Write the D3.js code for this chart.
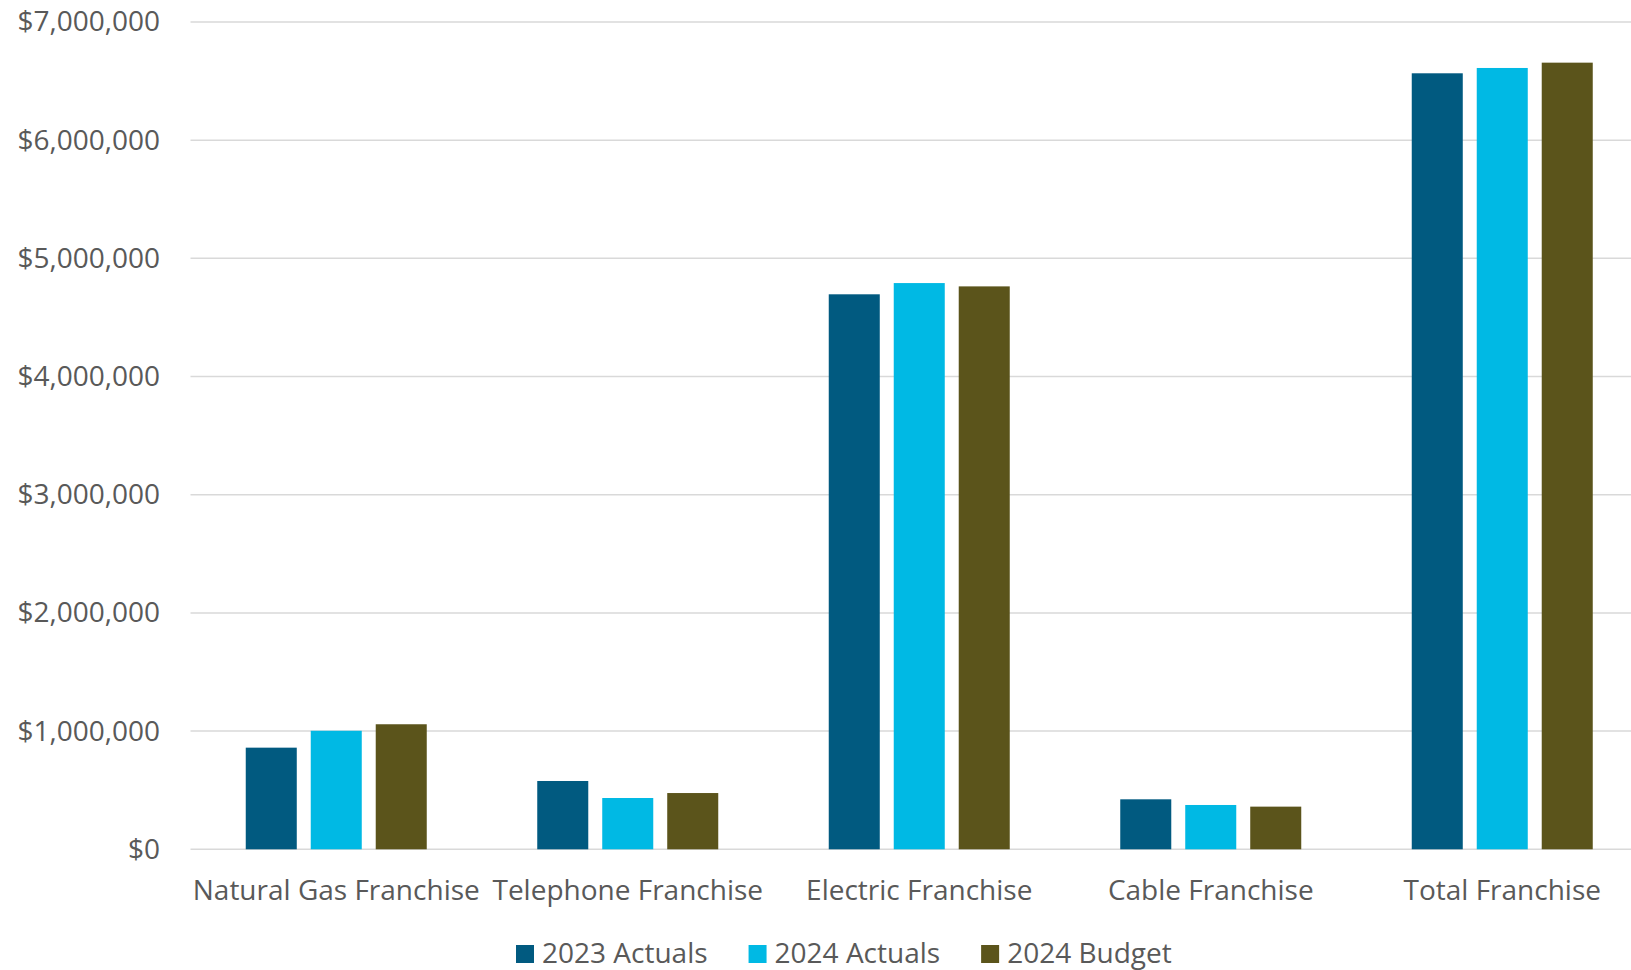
<!DOCTYPE html>
<html>
<head>
<meta charset="utf-8">
<script src="https://cdn.jsdelivr.net/npm/d3@7/dist/d3.min.js"></script>
<style>
  html, body { margin: 0; padding: 0; background: #ffffff; }
  svg { display: block; }
  text { font-family: "Open Sans", "Noto Sans", sans-serif; fill: #595959; }
</style>
</head>
<body>
<svg id="chart" width="1631" height="970"></svg>
<script>
// Franchise revenue by category
const categories = ["Natural Gas Franchise", "Telephone Franchise", "Electric Franchise", "Cable Franchise", "Total Franchise"];
const seriesNames = ["2023 Actuals", "2024 Actuals", "2024 Budget"];
const actuals2023 = [860000, 578000, 4696000, 423000, 6566000];
const actuals2024 = [1003000, 434000, 4791000, 375000, 6611000];
const budget2024 = [1058000, 476000, 4763000, 361000, 6656000];
const seriesColors = ["#015a80", "#00b9e4", "#5b541b"];
const yTicks = [0, 1000000, 2000000, 3000000, 4000000, 5000000, 6000000, 7000000];

const seriesValues = [actuals2023, actuals2024, budget2024];
const rows = categories.map((c, i) => ({
  category: c,
  values: seriesNames.map((s, j) => ({ series: s, value: seriesValues[j][i], color: seriesColors[j] }))
}));

const svg = d3.select("#chart");
const plot = { left: 190.5, right: 1648, top: 22, bottom: 849.3 };
const fontSize = 28;

const x0 = d3.scaleBand().domain(categories).range([plot.left, plot.right]).paddingInner(0).paddingOuter(0);
const groupWidth = 181;
const x1 = d3.scaleBand().domain(seriesNames).range([0, groupWidth]).paddingInner(0.215).paddingOuter(0);
const y = d3.scaleLinear().domain([0, 7000000]).range([plot.bottom, plot.top]);

const fmt = v => "$" + d3.format(",")(v);

// Horizontal gridlines
svg.append("g").selectAll("line").data(yTicks).join("line")
  .attr("x1", plot.left).attr("x2", plot.right)
  .attr("y1", d => y(d)).attr("y2", d => y(d))
  .attr("stroke", "#d9d9d9").attr("stroke-width", 1.5);

// Y axis labels
const yAxis = d3.axisLeft(y).tickValues(yTicks).tickFormat(fmt).tickSize(0).tickPadding(0);
const gy = svg.append("g").attr("transform", "translate(160,0)").call(yAxis);
gy.select(".domain").remove();
gy.selectAll("text").attr("font-size", fontSize).attr("fill", "#595959")
  .attr("font-family", "'Open Sans', sans-serif");

// Bars
const groups = svg.append("g").selectAll("g").data(rows).join("g")
  .attr("transform", d => `translate(${x0(d.category) + x0.bandwidth() / 2 - groupWidth / 2},0)`);
groups.selectAll("rect").data(d => d.values).join("rect")
  .attr("x", d => x1(d.series))
  .attr("width", x1.bandwidth())
  .attr("y", d => y(d.value))
  .attr("height", d => y(0) - y(d.value))
  .attr("fill", d => d.color);

// Category labels
const xAxis = d3.axisBottom(x0).tickSize(0).tickPadding(0);
const gx = svg.append("g").attr("transform", "translate(0,0)").call(xAxis);
gx.select(".domain").remove();
gx.selectAll("text").attr("font-size", fontSize).attr("fill", "#595959")
  .attr("font-family", "'Open Sans', sans-serif")
  .attr("dy", null).attr("y", 900);

// Legend
const legend = svg.append("g");
let lx = 516;
seriesNames.forEach((s, i) => {
  const item = legend.append("g");
  item.append("rect").attr("x", lx).attr("y", 945).attr("width", 18).attr("height", 18).attr("fill", seriesColors[i]);
  const t = item.append("text").attr("x", lx + 26).attr("y", 963).attr("font-size", fontSize).text(s);
  lx += 26 + t.node().getComputedTextLength() + 41;
});
</script>
</body>
</html>
